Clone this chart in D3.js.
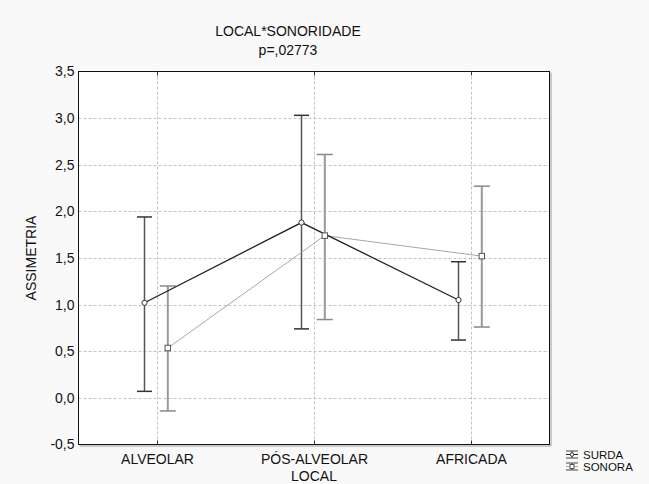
<!DOCTYPE html>
<html>
<head>
<meta charset="utf-8">
<script src="https://cdn.jsdelivr.net/npm/d3@7/dist/d3.min.js"></script>
<style>
  html, body { margin: 0; padding: 0; background: #f9f9f9; }
  svg { display: block; font-family: "Liberation Sans", Arial, sans-serif; }
</style>
</head>
<body>
<svg id="chart" width="649" height="484"></svg>
<script>
// Categories and series (mean with lower / upper interval limits)
const categories = ["ALVEOLAR", "PÓS-ALVEOLAR", "AFRICADA"];
const seriesNames = ["SURDA", "SONORA"];
const surdaMean  = [1.02, 1.88, 1.05];
const surdaLow   = [0.07, 0.74, 0.62];
const surdaHigh  = [1.94, 3.03, 1.46];
const sonoraMean = [0.535, 1.74, 1.52];
const sonoraLow  = [-0.14, 0.84, 0.76];
const sonoraHigh = [1.20, 2.61, 2.27];
const yTicks = [-0.5, 0, 0.5, 1, 1.5, 2, 2.5, 3, 3.5];
const titleText = "LOCAL*SONORIDADE";
const subtitleText = "p=,02773";
const xTitle = "LOCAL";
const yTitle = "ASSIMETRIA";

const series = [
  { name: seriesNames[0], mean: surdaMean, low: surdaLow, high: surdaHigh,
    offset: -12.5, line: "#222", bar: "#555", cap: "#333", barW: 1.5, capW: 15, marker: "circle" },
  { name: seriesNames[1], mean: sonoraMean, low: sonoraLow, high: sonoraHigh,
    offset: 10.8, line: "#a8a8a8", bar: "#999", cap: "#888", barW: 2, capW: 16, marker: "square" }
];

const svg = d3.select("#chart");
const plot = { left: 78.5, right: 549.5, top: 71.5, bottom: 444.5 };

const x = d3.scalePoint().domain(categories).range([plot.left, plot.right]).padding(0.5);
const y = d3.scaleLinear().domain([-0.5, 3.5]).range([plot.bottom, plot.top]);

// plot background
svg.append("rect")
  .attr("x", plot.left).attr("y", plot.top)
  .attr("width", plot.right - plot.left).attr("height", plot.bottom - plot.top)
  .attr("fill", "#fff");

// dashed grid
const grid = svg.append("g").attr("stroke", "#c4c4c4").attr("stroke-dasharray", "3,2").attr("stroke-width", 1);
grid.selectAll("line.h").data(yTicks.filter(t => t > -0.5 && t < 3.5)).join("line")
  .attr("x1", plot.left).attr("x2", plot.right)
  .attr("y1", d => Math.round(y(d)) + 0.5).attr("y2", d => Math.round(y(d)) + 0.5);
grid.selectAll("line.v").data(categories).join("line")
  .attr("y1", plot.top).attr("y2", plot.bottom)
  .attr("x1", d => Math.round(x(d)) + 0.5).attr("x2", d => Math.round(x(d)) + 0.5);

// frame shadow and frame
svg.append("path")
  .attr("d", `M${plot.right + 1.5},${plot.top + 1}V${plot.bottom + 1.5}H${plot.left + 1}`)
  .attr("fill", "none").attr("stroke", "#9a9a9a").attr("stroke-width", 1);
svg.append("rect")
  .attr("x", plot.left).attr("y", plot.top)
  .attr("width", plot.right - plot.left).attr("height", plot.bottom - plot.top)
  .attr("fill", "none").attr("stroke", "#111").attr("stroke-width", 1);

// axes
const xAxisB = d3.axisBottom(x).tickSize(-4).tickPadding(10);
const gxb = svg.append("g").attr("transform", `translate(0,${plot.bottom})`).call(xAxisB);
gxb.select(".domain").remove();
gxb.selectAll("line").attr("stroke", "#333");
gxb.selectAll("text").attr("font-size", 14).attr("fill", "#111")
  .attr("font-family", "Liberation Sans, Arial, sans-serif").attr("dy", "0.71em");

const xAxisT = d3.axisTop(x).tickSize(-4).tickFormat("");
const gxt = svg.append("g").attr("transform", `translate(0,${plot.top})`).call(xAxisT);
gxt.select(".domain").remove();
gxt.selectAll("line").attr("stroke", "#333");

const fmt = d => d3.format(".1f")(d).replace(".", ",").replace("−", "-");
const yAxis = d3.axisLeft(y).tickValues(yTicks).tickSize(0).tickPadding(4).tickFormat(fmt);
const gy = svg.append("g").attr("transform", `translate(${plot.left},0)`).call(yAxis);
gy.select(".domain").remove();
gy.selectAll("text").attr("font-size", 14).attr("fill", "#111")
  .attr("font-family", "Liberation Sans, Arial, sans-serif");

// titles
svg.append("text").attr("x", 288).attr("y", 36).attr("text-anchor", "middle")
  .attr("font-size", 14).attr("fill", "#111").text(titleText);
svg.append("text").attr("x", 288).attr("y", 55).attr("text-anchor", "middle")
  .attr("font-size", 14).attr("fill", "#111").text(subtitleText);
svg.append("text").attr("x", (plot.left + plot.right) / 2).attr("y", 481)
  .attr("text-anchor", "middle").attr("font-size", 14).attr("fill", "#111").text(xTitle);
svg.append("text").attr("transform", `translate(36,${(plot.top + plot.bottom) / 2}) rotate(-90)`)
  .attr("text-anchor", "middle").attr("font-size", 14).attr("fill", "#111").text(yTitle);

// error bars
series.forEach(s => {
  const g = svg.append("g");
  const px = c => x(c) + s.offset;
  g.selectAll("line.bar").data(categories).join("line")
    .attr("x1", px).attr("x2", px)
    .attr("y1", (c, i) => y(s.low[i])).attr("y2", (c, i) => y(s.high[i]))
    .attr("stroke", s.bar).attr("stroke-width", s.barW);
  ["low", "high"].forEach(k => {
    g.selectAll("line.cap-" + k).data(categories).join("line")
      .attr("x1", c => px(c) - s.capW / 2).attr("x2", c => px(c) + s.capW / 2)
      .attr("y1", (c, i) => y(s[k][i])).attr("y2", (c, i) => y(s[k][i]))
      .attr("stroke", s.cap).attr("stroke-width", 1.5);
  });
});

// mean lines
series.slice().reverse().forEach(s => {
  const line = d3.line().x((c, i) => x(c) + s.offset).y((c, i) => y(s.mean[i]));
  svg.append("path").datum(categories).attr("d", line)
    .attr("fill", "none").attr("stroke", s.line).attr("stroke-width", s.marker === "circle" ? 1.3 : 1);
});

// markers
series.forEach(s => {
  const g = svg.append("g");
  if (s.marker === "circle") {
    g.selectAll("circle").data(categories).join("circle")
      .attr("cx", c => x(c) + s.offset).attr("cy", (c, i) => y(s.mean[i])).attr("r", 2.6)
      .attr("fill", "#fff").attr("stroke", "#333").attr("stroke-width", 1);
  } else {
    g.selectAll("rect").data(categories).join("rect")
      .attr("x", c => x(c) + s.offset - 2.75).attr("y", (c, i) => y(s.mean[i]) - 2.75)
      .attr("width", 5.5).attr("height", 5.5)
      .attr("fill", "#fff").attr("stroke", "#555").attr("stroke-width", 1);
  }
});

// legend
const legend = svg.append("g").attr("transform", "translate(566,454.5)");
series.forEach((s, i) => {
  const row = legend.append("g").attr("transform", `translate(0,${i * 12})`);
  row.append("line").attr("x1", 0).attr("x2", 12).attr("y1", -3.5).attr("y2", -3.5).attr("stroke", "#444");
  row.append("line").attr("x1", 0).attr("x2", 12).attr("y1", 3.5).attr("y2", 3.5).attr("stroke", "#444");
  row.append("line").attr("x1", 6).attr("x2", 6).attr("y1", -3.5).attr("y2", 3.5).attr("stroke", "#444");
  row.append("line").attr("x1", 0).attr("x2", 12).attr("y1", 0).attr("y2", 0).attr("stroke", s.line);
  if (s.marker === "circle") {
    row.append("circle").attr("cx", 6).attr("cy", 0).attr("r", 1.8).attr("fill", "#fff").attr("stroke", "#333");
  } else {
    row.append("rect").attr("x", 4).attr("y", -2).attr("width", 4).attr("height", 4).attr("fill", "#fff").attr("stroke", "#555");
  }
  row.append("text").attr("x", 17).attr("y", 4.2).attr("font-size", 11.5).attr("fill", "#111").text(s.name);
});
</script>
</body>
</html>
